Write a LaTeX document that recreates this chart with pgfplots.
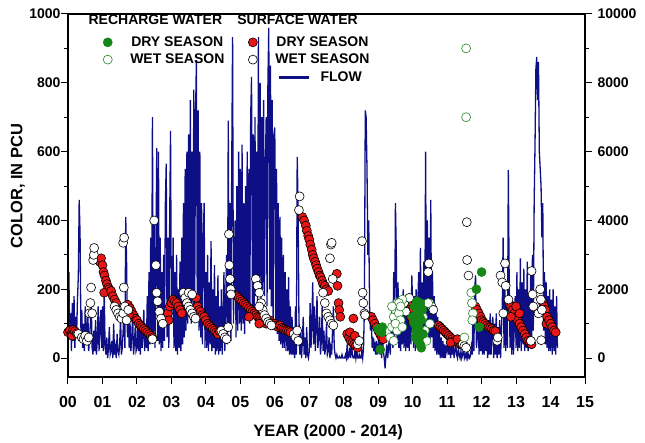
\documentclass[border=0pt]{standalone}
\usepackage{pgfplots}
\pgfplotsset{compat=1.18}
\usepackage{fontspec}
\setmainfont{Liberation Sans}

\definecolor{flowblue}{RGB}{14,14,135}
\definecolor{dryred}{RGB}{232,22,22}
\definecolor{rgreen}{RGB}{22,135,22}

\pgfplotsset{
  base/.style={
    scale only axis, width=517pt, height=363pt,
    xmin=0, xmax=15,
    axis line style={line width=1.1pt},
    tick style={line width=1pt, black},
    tick align=outside,
    major tick length=7pt, minor tick length=4pt,
    scaled y ticks=false,
    /pgf/number format/assume math mode=true,
    /pgf/number format/1000 sep={},
    yticklabel style={font=\fontsize{14}{16}\selectfont\bfseries},
    xticklabel style={font=\fontsize{16}{18}\selectfont\bfseries, yshift=-9pt},
  },
  drymark/.style={only marks, mark=*, mark size=4.5pt, mark options={draw=black, fill=dryred, line width=0.6pt}},
  wetmark/.style={only marks, mark=*, mark size=4.5pt, mark options={draw=black, fill=white, line width=0.6pt}},
  rdrymark/.style={only marks, mark=*, mark size=4.5pt, mark options={draw=rgreen, fill=rgreen, line width=0.6pt}},
  rwetmark/.style={only marks, mark=*, mark size=4.5pt, mark options={draw=rgreen!85!gray, fill=white, line width=0.6pt}},
}

\begin{document}
\begin{tikzpicture}
% ---------- river flow, right-hand scale ----------
\begin{axis}[base,
  axis x line=none, axis y line*=right,
  ymin=-550, ymax=10000,
  ytick={0,2000,4000,6000,8000,10000},
  minor ytick={1000,3000,5000,7000,9000},
  yticklabel style={xshift=2pt},
  legend style={draw=none, fill=none, at={(axis description cs:0.40,0.852)}, anchor=north west,
    font=\fontsize{14}{16}\selectfont\bfseries,
    /tikz/every odd column/.append style={column sep=8pt}},
  legend image code/.code={\draw[flowblue, line width=2.6pt] (0pt,0pt) -- (30pt,0pt);},
]
\addplot[flowblue, line width=1.3pt] coordinates {
(0.000,300)(0.025,2500)(0.050,600)(0.075,1300)(0.100,200)(0.125,1600)(0.150,500)(0.175,1800)(0.200,300)(0.225,1200)
(0.250,700)(0.275,1700)(0.300,2400)(0.325,4600)(0.350,3600)(0.375,800)(0.400,1400)(0.425,300)(0.450,1000)(0.475,200)
(0.500,1500)(0.525,400)(0.550,900)(0.575,1400)(0.600,200)(0.625,600)(0.650,1000)(0.675,1600)(0.700,300)(0.725,100)
(0.750,800)(0.775,200)(0.800,1100)(0.825,100)(0.850,500)(0.875,1500)(0.900,200)(0.925,900)(0.950,1400)(0.975,300)
(1.000,1500)(1.025,200)(1.050,2000)(1.075,400)(1.100,100)(1.125,600)(1.150,0)(1.175,300)(1.200,900)(1.225,100)
(1.250,200)(1.275,500)(1.300,0)(1.325,1000)(1.350,100)(1.375,300)(1.400,0)(1.425,700)(1.450,200)(1.475,100)
(1.500,400)(1.525,1200)(1.550,100)(1.575,300)(1.600,800)(1.625,1500)(1.650,300)(1.675,4100)(1.700,2800)(1.725,600)
(1.750,1500)(1.775,300)(1.800,1000)(1.825,200)(1.850,600)(1.875,1300)(1.900,100)(1.925,400)(1.950,900)(1.975,200)
(2.000,300)(2.025,1300)(2.050,200)(2.075,800)(2.100,100)(2.125,1000)(2.150,300)(2.175,600)(2.200,1400)(2.225,200)
(2.250,900)(2.275,300)(2.300,1800)(2.325,200)(2.350,2500)(2.375,400)(2.400,3500)(2.425,500)(2.450,7000)(2.475,600)
(2.500,4000)(2.525,300)(2.550,3000)(2.575,6100)(2.600,500)(2.625,6000)(2.650,400)(2.675,3500)(2.700,200)(2.725,2500)
(2.750,300)(2.775,3000)(2.800,500)(2.825,4500)(2.850,5650)(2.875,600)(2.900,3500)(2.925,300)(2.950,4000)(2.975,6600)
(3.000,1000)(3.025,1500)(3.050,3500)(3.075,300)(3.100,2500)(3.125,200)(3.150,3000)(3.175,100)(3.200,2000)(3.225,300)
(3.250,2800)(3.275,200)(3.300,3500)(3.325,400)(3.350,4500)(3.375,600)(3.400,5500)(3.425,800)(3.450,6000)(3.475,1000)
(3.500,6500)(3.525,1200)(3.550,7500)(3.575,1000)(3.600,6000)(3.625,1500)(3.650,7800)(3.675,1200)(3.700,7000)(3.725,8660)
(3.750,1500)(3.775,7200)(3.800,800)(3.825,6000)(3.850,600)(3.875,4500)(3.900,400)(3.925,3500)(3.950,4500)(3.975,300)
(4.000,2500)(4.025,300)(4.050,3000)(4.075,200)(4.100,2200)(4.125,400)(4.150,3400)(4.175,200)(4.200,2000)(4.225,300)
(4.250,2700)(4.275,100)(4.300,1800)(4.325,200)(4.350,2400)(4.375,100)(4.400,1500)(4.425,200)(4.450,2000)(4.475,100)
(4.500,1200)(4.525,2500)(4.550,200)(4.575,1500)(4.600,3000)(4.625,400)(4.650,6900)(4.675,800)(4.700,4500)(4.725,500)
(4.750,5500)(4.775,9330)(4.800,1000)(4.825,2500)(4.850,4000)(4.875,600)(4.900,5000)(4.925,800)(4.950,6000)(4.975,1000)
(5.000,5500)(5.025,800)(5.050,6200)(5.075,1000)(5.100,4500)(5.125,700)(5.150,5000)(5.175,1200)(5.200,6000)(5.225,1500)
(5.250,5500)(5.275,1000)(5.300,7000)(5.325,8170)(5.350,1500)(5.375,6500)(5.400,1200)(5.425,7000)(5.450,1800)(5.475,6000)
(5.500,1500)(5.525,9330)(5.550,2000)(5.575,8000)(5.600,1500)(5.625,7000)(5.650,2000)(5.675,7500)(5.700,1800)(5.725,5500)
(5.750,7000)(5.775,1500)(5.800,8000)(5.825,9600)(5.850,2000)(5.875,8500)(5.900,1500)(5.925,7500)(5.950,1000)(5.975,6500)
(6.000,6700)(6.025,800)(6.050,5500)(6.075,700)(6.100,4500)(6.125,500)(6.150,4100)(6.175,400)(6.200,3500)(6.225,300)
(6.250,3000)(6.275,300)(6.300,2500)(6.325,200)(6.350,2000)(6.375,200)(6.400,2350)(6.425,100)(6.450,1500)(6.475,100)
(6.500,1200)(6.525,100)(6.550,900)(6.575,0)(6.600,1500)(6.625,100)(6.650,5850)(6.675,4500)(6.700,1200)(6.725,100)
(6.750,800)(6.775,0)(6.800,500)(6.825,1200)(6.850,100)(6.875,600)(6.900,0)(6.925,900)(6.950,100)(6.975,0)
(7.000,200)(7.025,1600)(7.050,300)(7.075,1000)(7.100,2200)(7.125,400)(7.150,1500)(7.175,200)(7.200,900)(7.225,1800)
(7.250,300)(7.275,600)(7.300,1200)(7.325,100)(7.350,500)(7.375,1500)(7.400,200)(7.425,800)(7.450,100)(7.475,300)
(7.500,1000)(7.525,100)(7.550,200)(7.575,600)(7.600,0)(7.625,300)(7.650,100)(7.675,800)(7.700,1500)(7.725,300)
(7.750,100)(7.775,0)(7.800,100)(7.825,0)(7.850,0)(7.875,50)(7.900,0)(7.925,0)(7.950,100)(7.975,0)
(8.000,0)(8.025,0)(8.050,100)(8.075,0)(8.100,400)(8.125,0)(8.150,50)(8.175,300)(8.200,0)(8.225,500)
(8.250,100)(8.275,0)(8.300,0)(8.325,200)(8.350,0)(8.375,300)(8.400,0)(8.425,0)(8.450,100)(8.475,0)
(8.500,0)(8.525,200)(8.550,0)(8.575,300)(8.600,1500)(8.625,7200)(8.650,7000)(8.675,5500)(8.700,3000)(8.725,4000)
(8.750,1500)(8.775,800)(8.800,1200)(8.825,300)(8.850,600)(8.875,200)(8.900,400)(8.925,100)(8.950,500)(8.975,100)
(9.000,300)(9.025,800)(9.050,100)(9.075,500)(9.100,0)(9.125,600)(9.150,200)(9.175,0)(9.200,-300)(9.225,100)
(9.250,400)(9.275,0)(9.300,300)(9.325,600)(9.350,100)(9.375,800)(9.400,1500)(9.425,300)(9.450,2500)(9.475,500)
(9.500,4500)(9.525,3100)(9.550,500)(9.575,2200)(9.600,300)(9.625,1800)(9.650,200)(9.675,1600)(9.700,400)(9.725,2000)
(9.750,300)(9.775,1500)(9.800,200)(9.825,1700)(9.850,300)(9.875,1400)(9.900,200)(9.925,1800)(9.950,400)(9.975,2400)
(10.000,1500)(10.025,300)(10.050,1800)(10.075,200)(10.100,2000)(10.125,300)(10.150,1600)(10.175,2500)(10.200,400)(10.225,3200)
(10.250,500)(10.275,2200)(10.300,300)(10.325,2800)(10.350,500)(10.375,6000)(10.400,800)(10.425,4000)(10.450,600)(10.475,3500)
(10.500,500)(10.525,4600)(10.550,600)(10.575,2500)(10.600,300)(10.625,1800)(10.650,200)(10.675,1500)(10.700,100)(10.725,1200)
(10.750,100)(10.775,800)(10.800,0)(10.825,600)(10.850,0)(10.875,500)(10.900,0)(10.925,400)(10.950,0)(10.975,300)
(11.000,200)(11.025,500)(11.050,100)(11.075,400)(11.100,0)(11.125,300)(11.150,100)(11.175,500)(11.200,0)(11.225,200)
(11.250,400)(11.275,100)(11.300,0)(11.325,300)(11.350,100)(11.375,0)(11.400,200)(11.425,0)(11.450,100)(11.475,300)
(11.500,0)(11.525,100)(11.550,0)(11.575,200)(11.600,0)(11.625,100)(11.650,0)(11.675,50)(11.700,300)(11.725,100)
(11.750,1400)(11.775,200)(11.800,2000)(11.825,2400)(11.850,300)(11.875,600)(11.900,1500)(11.925,100)(11.950,1200)(11.975,200)
(12.000,1300)(12.025,100)(12.050,1000)(12.075,100)(12.100,1200)(12.125,200)(12.150,900)(12.175,0)(12.200,1100)(12.225,100)
(12.250,1300)(12.275,100)(12.300,800)(12.325,1200)(12.350,0)(12.375,1000)(12.400,100)(12.425,1300)(12.450,0)(12.475,900)
(12.500,100)(12.525,1100)(12.550,0)(12.575,800)(12.600,1500)(12.625,3500)(12.650,300)(12.675,2000)(12.700,200)(12.725,1500)
(12.750,300)(12.775,5470)(12.800,2300)(12.825,300)(12.850,1800)(12.875,100)(12.900,1500)(12.925,100)(12.950,1000)(12.975,1800)
(13.000,300)(13.025,2500)(13.050,200)(13.075,2000)(13.100,300)(13.125,2900)(13.150,200)(13.175,2200)(13.200,400)(13.225,2600)
(13.250,200)(13.275,2000)(13.300,300)(13.325,2800)(13.350,200)(13.375,1800)(13.400,300)(13.425,2500)(13.450,400)(13.475,3000)
(13.500,800)(13.525,4500)(13.550,6200)(13.575,8400)(13.600,8750)(13.625,7500)(13.650,8600)(13.675,6000)(13.700,5500)(13.725,5000)
(13.750,3500)(13.775,4500)(13.800,800)(13.825,2500)(13.850,400)(13.875,2200)(13.900,300)(13.925,1800)(13.950,200)(13.975,2000)
(14.000,200)(14.025,1700)(14.050,100)(14.075,2000)(14.100,200)(14.125,1500)(14.150,100)(14.175,1800)(14.200,300)
};
\addlegendentry{FLOW}
\end{axis}

% ---------- colour samples, left-hand scale ----------
\begin{axis}[base,
  ymin=-55, ymax=1000,
  ytick={0,200,400,600,800,1000},
  minor ytick={100,300,500,700,900},
  ytick pos=left, xtick pos=bottom,
  yticklabel style={xshift=3pt},
  xtick={0,1,...,15},
  xticklabels={00,01,02,03,04,05,06,07,08,09,10,11,12,13,14,15},
  xlabel={YEAR (2000 - 2014)},
  ylabel={COLOR, IN PCU},
  label style={font=\fontsize{16.5}{18}\selectfont\bfseries},
  xlabel style={at={(axis description cs:0.503,-0.152)}, anchor=center},
  ylabel style={at={(axis description cs:-0.097,0.526)}, anchor=center},
  legend columns=2,
  legend style={draw=none, fill=none, at={(axis description cs:0.062,0.949)}, anchor=north west,
    font=\fontsize{14}{16}\selectfont\bfseries, row sep=2pt,
    /tikz/every odd column/.append style={column sep=16pt},
    /tikz/every even column/.append style={column sep=22pt}},
]
% surface water, dry season
\addplot[drymark, forget plot] coordinates {
(0.00,75)(0.05,80)(0.10,70)(0.12,65)(0.15,82)(0.20,78)(0.25,72)
(0.87,285)(0.92,280)(0.96,290)(1.00,270)(1.03,250)(1.06,240)(1.10,225)(1.13,215)(1.17,205)(1.20,200)(1.05,190)(1.25,195)(1.30,180)(1.35,170)(1.40,160)
(1.74,155)(1.80,145)(1.85,135)(1.90,125)(1.95,115)(2.00,110)(2.05,100)(2.10,95)(2.15,90)(2.20,85)(2.25,80)(2.30,75)(2.35,70)(2.40,65)(2.45,60)(1.77,125)
(2.90,130)(2.92,110)(2.95,150)(3.00,160)(3.05,170)(3.10,165)(3.15,160)(3.20,150)(3.25,140)(3.30,130)
(3.72,175)(3.76,150)(3.80,140)(3.85,135)(3.90,125)(3.95,120)(4.00,110)(4.05,100)(4.10,95)(4.15,90)(4.20,85)(4.25,80)(4.30,75)(4.35,70)(4.40,78)
(4.90,180)(4.95,175)(5.00,170)(5.05,165)(5.10,160)(5.15,155)(5.20,150)(5.25,145)(5.30,140)(5.35,135)(5.40,130)(5.45,125)(5.50,120)(5.55,118)(5.60,115)
(5.65,110)(5.70,105)(5.75,100)(5.80,105)(5.85,110)(5.90,100)(5.95,95)(6.00,100)(6.05,95)(6.10,90)(6.15,95)(6.20,88)(6.25,85)(6.30,82)(6.35,80)(6.40,78)(6.45,75)(5.25,120)(5.55,100)
(6.80,410)(6.85,400)(6.90,385)(6.93,370)(6.97,355)(7.00,345)(7.03,330)(7.07,315)(7.10,300)(7.13,290)(7.17,280)(7.20,270)(7.23,260)(7.27,250)(7.30,240)(7.33,235)(7.37,225)(7.40,215)(7.45,210)(7.50,200)(7.55,195)
(7.80,245)(7.82,210)(7.85,160)(7.87,140)(7.90,120)(8.28,115)(8.10,70)(8.15,60)(8.20,50)(8.25,45)(8.30,40)(8.35,35)(8.18,75)(8.32,65)(8.40,30)
(8.80,120)(8.85,110)(8.90,100)(8.95,90)(9.00,80)(9.05,70)(9.10,60)(9.15,55)
(9.80,150)(9.85,160)(9.90,140)(9.93,135)(9.95,120)(10.00,105)
(10.75,95)(10.80,90)(10.85,85)(10.90,80)(10.95,75)(11.00,70)(11.05,65)(11.10,60)(11.15,55)(11.20,50)(11.25,48)(11.30,45)(11.35,42)(11.40,40)(11.45,38)(11.10,45)(11.30,55)
(11.82,150)(11.87,140)(11.92,130)(11.97,120)(12.00,110)(12.05,105)(12.10,100)(12.15,95)(12.20,90)(12.25,88)(12.30,85)(12.35,80)(12.40,78)
(12.80,160)(12.85,150)(12.90,140)(12.95,130)(13.00,120)(13.05,110)(13.10,100)(13.15,90)(13.20,80)(13.25,70)(13.30,60)(12.85,120)(13.00,150)(13.10,130)(13.35,50)(13.40,45)(13.45,40)
(13.78,160)(13.82,150)(13.85,140)(13.88,100)(13.90,120)(13.95,110)(14.00,100)(14.05,90)(14.10,80)(14.15,75)
};
% surface water, wet season
\addplot[wetmark, forget plot] coordinates {
(0.30,70)(0.40,60)(0.45,55)(0.50,65)(0.55,50)(0.60,60)
(0.62,130)(0.65,160)(0.67,205)(0.70,130)(0.73,285)(0.75,300)(0.76,320)
(1.35,150)(1.40,140)(1.45,130)(1.50,120)(1.55,115)(1.60,130)(1.65,150)(1.70,110)(1.75,140)(1.60,335)(1.63,350)(1.62,205)
(2.45,55)(2.50,400)(2.55,270)(2.57,190)(2.60,165)(2.65,135)(2.70,115)(2.75,100)
(3.35,190)(3.40,175)(3.45,160)(3.50,150)(3.55,140)(3.60,130)(3.65,120)(3.70,115)(3.50,190)(3.60,185)
(4.45,80)(4.50,70)(4.55,60)(4.60,55)(4.65,90)(4.67,360)(4.68,270)(4.70,230)(4.72,200)(4.73,185)
(5.45,230)(5.50,210)(5.55,190)(5.60,160)(5.65,140)(5.70,125)(5.75,115)(5.80,105)(5.85,100)(5.90,95)(5.55,150)
(6.55,70)(6.60,60)(6.65,80)(6.68,50)(6.70,430)(6.72,470)
(7.40,190)(7.45,160)(7.50,130)(7.55,120)(7.60,110)(7.65,100)(7.70,95)(7.60,290)(7.63,330)(7.65,335)(7.68,230)
(8.40,40)(8.45,50)(8.53,340)(8.55,190)(8.57,160)(8.60,130)(8.62,125)
(9.75,160)(9.80,135)(9.90,175)
(10.45,250)(10.47,275)(10.50,160)(10.55,150)(10.60,140)
(11.45,40)(11.50,35)(11.55,30)(11.57,395)(11.58,285)(11.62,240)
(12.45,50)(12.47,60)(12.55,240)(12.60,220)(12.63,130)(12.68,275)(12.70,210)(12.78,170)
(13.43,50)(13.45,253)(13.48,185)(13.50,150)(13.65,130)(13.70,200)(13.72,170)(13.73,52)(13.75,140)
};
% recharge water, wet season
\addplot[rwetmark, forget plot] coordinates {
(9.35,60)(9.40,90)(9.45,120)(9.50,140)(9.55,160)(9.60,130)(9.65,110)(9.70,170)(9.45,50)(9.55,80)(9.60,160)(9.50,100)(9.40,150)(9.65,150)(9.70,90)
(10.30,120)(10.35,80)(10.40,50)(10.45,160)(10.50,100)
(11.50,60)(11.70,190)(11.72,160)(11.75,130)(11.73,110)(11.55,900)(11.55,700)
};
% recharge water, dry season
\addplot[rdrymark, forget plot] coordinates {
(9.00,85)(9.05,80)(9.10,75)(9.06,25)(9.12,90)
(10.00,120)(10.05,100)(10.10,150)(10.12,165)(10.15,130)(10.18,90)(10.20,60)(10.22,40)(10.25,110)(10.28,140)(10.10,80)(10.15,50)(10.20,120)(10.05,150)(10.30,70)(10.25,30)(10.08,60)(10.22,160)
(11.85,200)(11.93,90)(12.00,250)
};
\addlegendimage{rdrymark}\addlegendentry{DRY SEASON}
\addlegendimage{drymark}\addlegendentry{DRY SEASON}
\addlegendimage{rwetmark}\addlegendentry{WET SEASON}
\addlegendimage{wetmark}\addlegendentry{WET SEASON}
\node[font=\fontsize{14}{16}\selectfont\bfseries] at (axis description cs:0.169,0.983) {RECHARGE WATER};
\node[font=\fontsize{14}{16}\selectfont\bfseries] at (axis description cs:0.444,0.983) {SURFACE WATER};
\end{axis}
\pgfresetboundingbox
\path[use as bounding box] (current axis.south west) ++(-68pt,-65pt) rectangle ++(645pt,442pt);
\end{tikzpicture}
\end{document}
